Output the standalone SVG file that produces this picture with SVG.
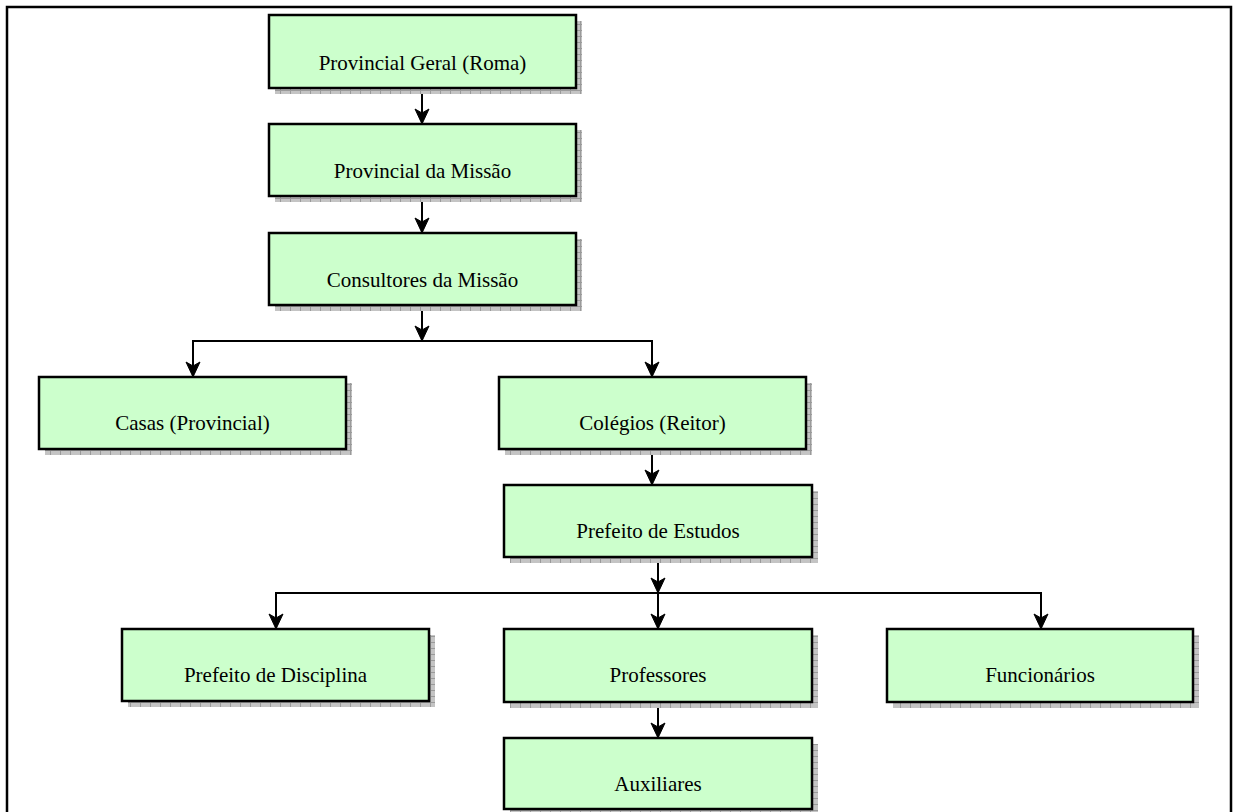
<svg xmlns="http://www.w3.org/2000/svg" width="1233" height="812" viewBox="0 0 1233 812">
<style>
.box{fill:#ccffcc;stroke:#000;stroke-width:2.5}
.sh{fill:url(#hatch)}
.lbl{font-family:"Liberation Serif","Times New Roman",serif;font-size:21px;fill:#000;text-anchor:middle}
.ln{fill:none;stroke:#000;stroke-width:2}
</style>
<defs>
<pattern id="hatch" patternUnits="userSpaceOnUse" width="10" height="6">
<rect width="10" height="6" fill="#c4c4c4"/>
<path d="M0 0.5H10M0.5 0V6" stroke="#9a9a9a" stroke-width="1"/>
</pattern>
<marker id="arr" markerUnits="userSpaceOnUse" markerWidth="18" markerHeight="16" viewBox="-16 -8 18 16" refX="0" refY="0" orient="auto-start-reverse">
<path d="M0 0 L-15 -7 L-11 0 L-15 7 Z" fill="#000" stroke="#000" stroke-width="1" stroke-linejoin="miter"/>
</marker>
</defs>
<rect x="7" y="7" width="1224" height="830" fill="none" stroke="#000" stroke-width="2.5"/>
<g id="connectors">
<path class="ln" d="M422 88V124" marker-end="url(#arr)"/>
<path class="ln" d="M422 196V233" marker-end="url(#arr)"/>
<path class="ln" d="M422 305V341" marker-end="url(#arr)"/>
<path class="ln" d="M193 377V341H652V377" marker-start="url(#arr)" marker-end="url(#arr)"/>
<path class="ln" d="M652 449V485" marker-end="url(#arr)"/>
<path class="ln" d="M658 557V593" marker-end="url(#arr)"/>
<path class="ln" d="M276 629V593H1041V629" marker-start="url(#arr)" marker-end="url(#arr)"/>
<path class="ln" d="M658 593V629" marker-end="url(#arr)"/>
<path class="ln" d="M658 702V738" marker-end="url(#arr)"/>
</g>
<g id="n1"><rect class="sh" x="275" y="21" width="307" height="73"/><rect class="box" x="269" y="15" width="307" height="73"/><text class="lbl" x="422.5" y="70">Provincial Geral (Roma)</text></g>
<g id="n2"><rect class="sh" x="275" y="130" width="307" height="72"/><rect class="box" x="269" y="124" width="307" height="72"/><text class="lbl" x="422.5" y="178">Provincial da Missão</text></g>
<g id="n3"><rect class="sh" x="275" y="239" width="307" height="72"/><rect class="box" x="269" y="233" width="307" height="72"/><text class="lbl" x="422.5" y="287">Consultores da Missão</text></g>
<g id="n4"><rect class="sh" x="45" y="383" width="307" height="72"/><rect class="box" x="39" y="377" width="307" height="72"/><text class="lbl" x="192.5" y="430">Casas (Provincial)</text></g>
<g id="n5"><rect class="sh" x="505" y="383" width="307" height="72"/><rect class="box" x="499" y="377" width="307" height="72"/><text class="lbl" x="652.5" y="430">Colégios (Reitor)</text></g>
<g id="n6"><rect class="sh" x="510" y="491" width="308" height="72"/><rect class="box" x="504" y="485" width="308" height="72"/><text class="lbl" x="658" y="538">Prefeito de Estudos</text></g>
<g id="n7"><rect class="sh" x="128" y="635" width="307" height="72"/><rect class="box" x="122" y="629" width="307" height="72"/><text class="lbl" x="275.5" y="682">Prefeito de Disciplina</text></g>
<g id="n8"><rect class="sh" x="510" y="635" width="308" height="73"/><rect class="box" x="504" y="629" width="308" height="73"/><text class="lbl" x="658" y="682">Professores</text></g>
<g id="n9"><rect class="sh" x="893" y="635" width="306" height="73"/><rect class="box" x="887" y="629" width="306" height="73"/><text class="lbl" x="1040" y="682">Funcionários</text></g>
<g id="n10"><rect class="sh" x="510" y="744" width="308" height="71"/><rect class="box" x="504" y="738" width="308" height="71"/><text class="lbl" x="658" y="791">Auxiliares</text></g>
</svg>
